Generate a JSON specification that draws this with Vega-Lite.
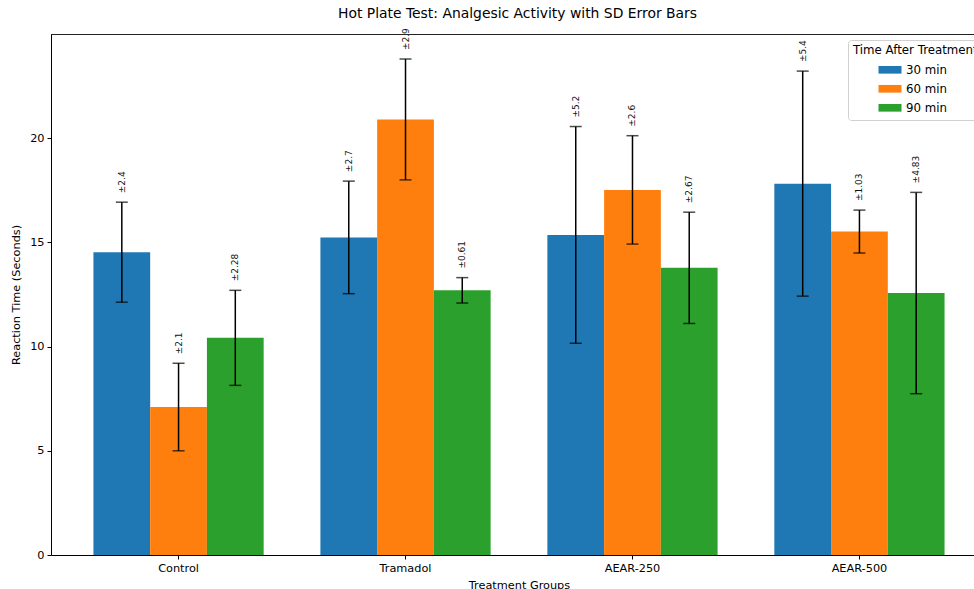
{
  "$schema": "https://vega.github.io/schema/vega-lite/v6.json",
  "autosize": {"type": "none"},
  "padding": {"left": 51, "top": 34, "right": 0, "bottom": 34},
  "width": 923,
  "height": 521,
  "title": {"text": "Hot Plate Test: Analgesic Activity with SD Error Bars", "fontSize": 13.9, "fontWeight": "normal", "color": "black", "offset": 7, "dx": 5},
  "data": {"values": [
    {"group": "Control", "time": "30 min", "mean": 14.53, "sd": 2.4, "lo": 12.13, "hi": 16.93, "label": "±2.4"},
    {"group": "Control", "time": "60 min", "mean": 7.1, "sd": 2.1, "lo": 5.0, "hi": 9.2, "label": "±2.1"},
    {"group": "Control", "time": "90 min", "mean": 10.42, "sd": 2.28, "lo": 8.14, "hi": 12.7, "label": "±2.28"},
    {"group": "Tramadol", "time": "30 min", "mean": 15.24, "sd": 2.7, "lo": 12.54, "hi": 17.94, "label": "±2.7"},
    {"group": "Tramadol", "time": "60 min", "mean": 20.9, "sd": 2.9, "lo": 18.0, "hi": 23.8, "label": "±2.9"},
    {"group": "Tramadol", "time": "90 min", "mean": 12.7, "sd": 0.61, "lo": 12.09, "hi": 13.31, "label": "±0.61"},
    {"group": "AEAR-250", "time": "30 min", "mean": 15.36, "sd": 5.2, "lo": 10.16, "hi": 20.56, "label": "±5.2"},
    {"group": "AEAR-250", "time": "60 min", "mean": 17.52, "sd": 2.6, "lo": 14.92, "hi": 20.12, "label": "±2.6"},
    {"group": "AEAR-250", "time": "90 min", "mean": 13.78, "sd": 2.67, "lo": 11.11, "hi": 16.45, "label": "±2.67"},
    {"group": "AEAR-500", "time": "30 min", "mean": 17.82, "sd": 5.4, "lo": 12.42, "hi": 23.22, "label": "±5.4"},
    {"group": "AEAR-500", "time": "60 min", "mean": 15.52, "sd": 1.03, "lo": 14.49, "hi": 16.55, "label": "±1.03"},
    {"group": "AEAR-500", "time": "90 min", "mean": 12.57, "sd": 4.83, "lo": 7.74, "hi": 17.4, "label": "±4.83"}
  ]},
  "layer": [
    {"mark": {"type": "bar"},
     "encoding": {
       "x": {"field": "group", "type": "nominal", "sort": ["Control", "Tramadol", "AEAR-250", "AEAR-500"],
         "scale": {"range": [0, 936], "paddingInner": 0.25, "paddingOuter": 0.187},
         "axis": {"title": "Treatment Groups", "labelAngle": 0, "labelPadding": 3, "titlePadding": 6}},
       "xOffset": {"field": "time", "type": "nominal", "scale": {"paddingInner": 0, "paddingOuter": 0}},
       "y": {"field": "mean", "type": "quantitative", "scale": {"domain": [0, 25], "nice": false},
         "axis": {"title": "Reaction Time (Seconds)", "values": [0, 5, 10, 15, 20], "grid": false, "labelPadding": 3, "titlePadding": 8}},
       "color": {"field": "time", "type": "nominal",
         "scale": {"domain": ["30 min", "60 min", "90 min"], "range": ["#1f77b4", "#ff7f0e", "#2ca02c"]},
         "legend": {"orient": "none", "legendX": 797, "legendY": 6, "title": "Time After Treatment"}}
     }},
    {"mark": {"type": "rule", "color": "black", "strokeWidth": 1.5},
     "encoding": {
       "x": {"field": "group", "type": "nominal", "sort": ["Control", "Tramadol", "AEAR-250", "AEAR-500"]},
       "xOffset": {"field": "time", "type": "nominal"},
       "y": {"field": "lo", "type": "quantitative"}, "y2": {"field": "hi"}}},
    {"mark": {"type": "tick", "color": "black", "thickness": 1.5, "size": 12},
     "encoding": {
       "x": {"field": "group", "type": "nominal", "sort": ["Control", "Tramadol", "AEAR-250", "AEAR-500"]},
       "xOffset": {"field": "time", "type": "nominal"},
       "y": {"field": "lo", "type": "quantitative"}}},
    {"mark": {"type": "tick", "color": "black", "thickness": 1.5, "size": 12},
     "encoding": {
       "x": {"field": "group", "type": "nominal", "sort": ["Control", "Tramadol", "AEAR-250", "AEAR-500"]},
       "xOffset": {"field": "time", "type": "nominal"},
       "y": {"field": "hi", "type": "quantitative"}}},
    {"mark": {"type": "text", "angle": 270, "align": "left", "baseline": "middle", "dx": 9, "fontSize": 9, "color": "#111"},
     "encoding": {
       "x": {"field": "group", "type": "nominal", "sort": ["Control", "Tramadol", "AEAR-250", "AEAR-500"]},
       "xOffset": {"field": "time", "type": "nominal"},
       "y": {"field": "hi", "type": "quantitative"}, "text": {"field": "label"}}},
    {"mark": {"type": "rule", "color": "#222", "strokeWidth": 1, "yOffset": 0.5},
     "encoding": {"y": {"datum": 25}}}
  ],
  "config": {
    "font": "DejaVu Sans",
    "view": {"stroke": null},
    "axis": {"domainColor": "black", "tickColor": "black", "labelColor": "black", "titleColor": "black",
      "titleFontWeight": "normal", "titleFontSize": 11.3, "labelFontSize": 11.3, "tickSize": 4, "domainWidth": 1},
    "legend": {"titleFontSize": 11.8, "titleFontWeight": "normal", "titleColor": "black", "labelFontSize": 11.8, "labelColor": "black",
      "fillColor": "white", "strokeColor": "#d0d0d0", "cornerRadius": 3, "padding": 5,
      "symbolType": "M-1.5,-0.5H1.5V0.5H-1.5Z", "symbolSize": 235, "symbolStrokeWidth": 0,
      "symbolOffset": 29, "rowPadding": 4, "labelOffset": 8, "titlePadding": 5}
  }
}
